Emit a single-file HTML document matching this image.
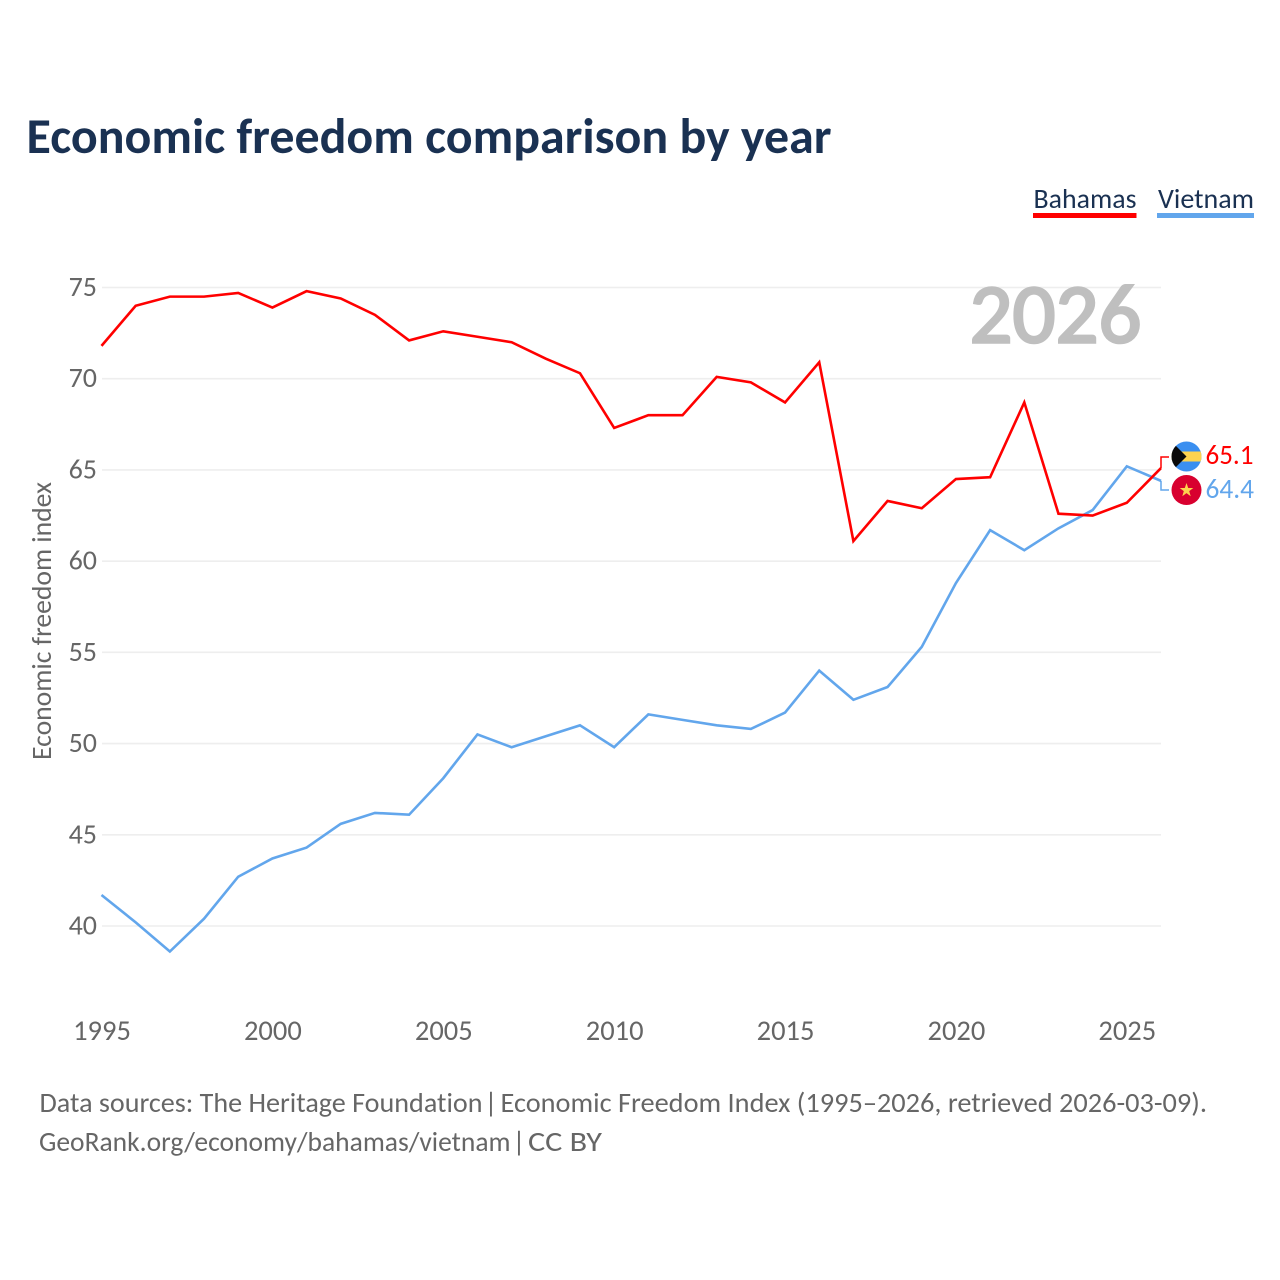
<!DOCTYPE html>
<html lang="en">
<head>
<meta charset="utf-8">
<title>Economic freedom comparison by year</title>
<style>
html,body{margin:0;padding:0;background:#fff}
svg{display:block}
text{font-family:"Carlito","Lato","Liberation Sans",sans-serif;font-variant-ligatures:none}
</style>
</head>
<body>
<svg id="chart" width="1280" height="1280" viewBox="0 0 1280 1280" xmlns="http://www.w3.org/2000/svg">
  <defs>
    <clipPath id="flag-clip-a"><circle cx="1186.5" cy="456.5" r="15"/></clipPath>
  </defs>
  <rect width="1280" height="1280" fill="#fff"/>
  <text x="26.500" y="153" font-size="50" font-weight="700" fill="#1a3152" textLength="805" lengthAdjust="spacingAndGlyphs">Economic freedom comparison by year</text>

  <g>
    <g>
      <text x="1033.500" y="208" font-size="28" fill="#1a3152" textLength="103" lengthAdjust="spacingAndGlyphs">Bahamas</text>
      <rect x="1033" y="213" width="103.500" height="5" fill="#ff0000"/>
    </g>
    <g>
      <text x="1158" y="208" font-size="28" fill="#1a3152" textLength="96" lengthAdjust="spacingAndGlyphs">Vietnam</text>
      <rect x="1157" y="213" width="97" height="5" fill="#62a6ec"/>
    </g>
  </g>

  <g id="grid"></g>
  <text x="969.500" y="342.500" font-size="84" font-weight="400" fill="#bfbfbf" stroke="#bfbfbf" stroke-width="2.600" textLength="172" lengthAdjust="spacingAndGlyphs">2026</text>
  <g id="y-ticks"></g>
  <g id="x-ticks"></g>
  <text transform="translate(51,760) rotate(-90)" x="0" y="0" font-size="28" fill="#666" textLength="278" lengthAdjust="spacingAndGlyphs">Economic freedom index</text>
  <g id="series"></g>

  <g>
    <path id="connector-a" fill="none" stroke="#ff0000" stroke-width="1.500"/>
    <g clip-path="url(#flag-clip-a)">
      <rect x="1171" y="441" width="31" height="31" fill="#3a8ff0"/>
      <rect x="1171" y="451.500" width="31" height="10" fill="#fdd34f"/>
      <path d="M1171 441 L1186.500 456.500 L1171 472 Z" fill="#0a0a0a"/>
    </g>
    <text id="label-a" x="1205.500" y="464" font-size="28" fill="#ff0000" textLength="48" lengthAdjust="spacingAndGlyphs"></text>
  </g>
  <g>
    <path id="connector-b" fill="none" stroke="#62a6ec" stroke-width="1.500"/>
    <circle cx="1186.500" cy="490" r="15" fill="#d8002f"/>
    <polygon points="1186.500,483 1188.200,488 1193.300,488 1189.200,491.100 1190.700,496.200 1186.500,493.100 1182.300,496.200 1183.800,491.100 1179.700,488 1184.800,488" fill="#fdd34f"/>
    <text id="label-b" x="1205.500" y="498" font-size="28" fill="#62a6ec" textLength="48.500" lengthAdjust="spacingAndGlyphs"></text>
  </g>

  <g font-size="28" fill="#666">
    <text x="39.500" y="1112" textLength="443" lengthAdjust="spacingAndGlyphs">Data sources: The Heritage Foundation</text>
    <text x="491" y="1112" text-anchor="middle">|</text>
    <text x="500.500" y="1112" textLength="706.500" lengthAdjust="spacingAndGlyphs">Economic Freedom Index (1995–2026, retrieved 2026-03-09).</text>
  </g>
  <g font-size="28" fill="#666">
    <text x="39" y="1151" textLength="471.500" lengthAdjust="spacingAndGlyphs">GeoRank.org/economy/bahamas/vietnam</text>
    <text x="519" y="1151" text-anchor="middle">|</text>
    <text x="528" y="1151" textLength="74" lengthAdjust="spacingAndGlyphs">CC BY</text>
  </g>
</svg>
<script>
var years = [1995,1996,1997,1998,1999,2000,2001,2002,2003,2004,2005,2006,2007,2008,2009,2010,2011,2012,2013,2014,2015,2016,2017,2018,2019,2020,2021,2022,2023,2024,2025,2026];
var bahamas = [71.8,74.0,74.5,74.5,74.7,73.9,74.8,74.4,73.5,72.1,72.6,72.3,72.0,71.1,70.3,67.3,68.0,68.0,70.1,69.8,68.7,70.9,61.1,63.3,62.9,64.5,64.6,68.7,62.6,62.5,63.2,65.1];
var vietnam = [41.7,40.2,38.6,40.4,42.7,43.7,44.3,45.6,46.2,46.1,48.1,50.5,49.8,50.4,51.0,49.8,51.6,51.3,51.0,50.8,51.7,54.0,52.4,53.1,55.3,58.8,61.7,60.6,61.8,62.8,65.2,64.4];
var yTickValues = [40,45,50,55,60,65,70,75];
var xTickValues = [1995,2000,2005,2010,2015,2020,2025];

var NS = 'http://www.w3.org/2000/svg';
function xScale(year){ return 101.5 + (year - 1995) * (1161 - 101.5) / 31; }
function yScale(v){ return 287.5 + (75 - v) * (926 - 287.5) / 35; }
function make(tag, attrs, parent){
  var el = document.createElementNS(NS, tag);
  for (var k in attrs) el.setAttribute(k, attrs[k]);
  parent.appendChild(el);
  return el;
}
var grid = document.getElementById('grid');
var yTicks = document.getElementById('y-ticks');
var xTicks = document.getElementById('x-ticks');
var seriesGroup = document.getElementById('series');

yTickValues.forEach(function(v){
  var line = make('line', {x1:102, x2:1161, y1:yScale(v), y2:yScale(v), stroke:'#eeeeee', 'stroke-width':1.6}, grid);
  
  
  var t = make('text', {x:97, y:yScale(v)+8.500, 'text-anchor':'end', 'font-size':28, fill:'#666'}, yTicks);
  
  
  t.textContent = String(v);
});
xTickValues.forEach(function(y){
  var t = make('text', {x:xScale(y)+0.5, y:1040, 'text-anchor':'middle', 'font-size':28.5, fill:'#666'}, xTicks);
  
  
  t.textContent = String(y);
});
function pathFor(values){
  return values.map(function(v,i){ return (i ? 'L' : 'M') + xScale(years[i]).toFixed(2) + ' ' + yScale(v).toFixed(2); }).join(' ');
}
var lineB = make('path', {d:pathFor(vietnam), fill:'none', stroke:'#62a6ec', 'stroke-width':2.6, 'stroke-linejoin':'miter'}, seriesGroup);


var lineA = make('path', {d:pathFor(bahamas), fill:'none', stroke:'#ff0000', 'stroke-width':2.6, 'stroke-linejoin':'miter'}, seriesGroup);



var lastA = bahamas[bahamas.length-1], lastB = vietnam[vietnam.length-1];
document.getElementById('connector-a').setAttribute('d', 'M1161 ' + yScale(lastA).toFixed(1) + ' L1161 457 L1169 457');
document.getElementById('connector-b').setAttribute('d', 'M1161 ' + yScale(lastB).toFixed(1) + ' L1161 490 L1169 490');
document.getElementById('label-a').textContent = lastA.toFixed(1);
document.getElementById('label-b').textContent = lastB.toFixed(1);
</script>
</body>
</html>
